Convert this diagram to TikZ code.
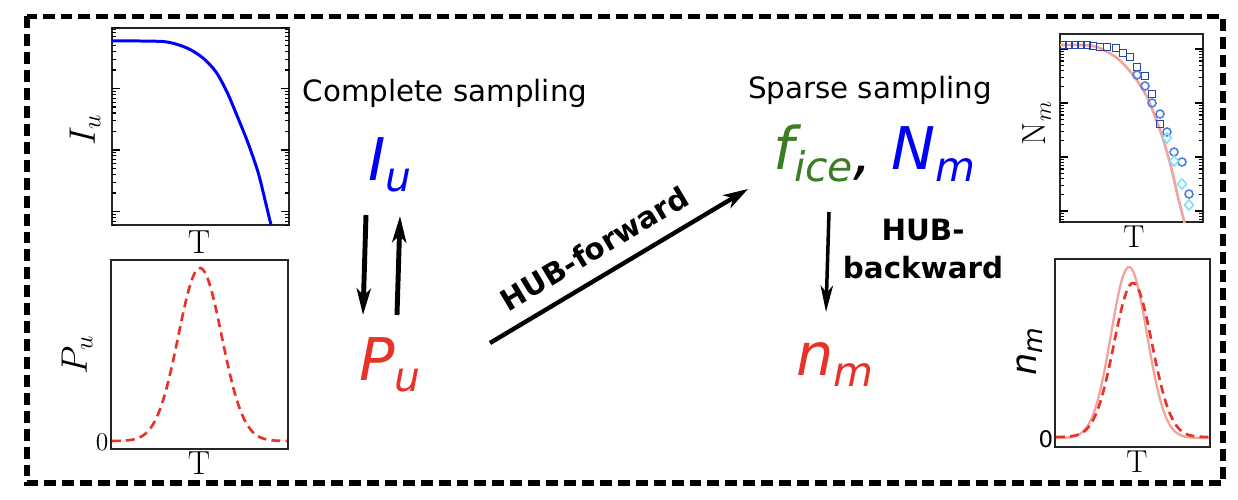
\RequirePackage{fix-cm}
\documentclass[tikz,border=0pt]{standalone}
\usepackage{fontspec}
\newfontfamily\dejavu{DejaVu Sans}
\usetikzlibrary{arrows.meta}

\definecolor{hubblue}{RGB}{0,0,250}
\definecolor{hubred}{RGB}{232,50,40}
\definecolor{hubgreen}{RGB}{58,125,34}
\definecolor{hubpink}{RGB}{244,162,156}
\definecolor{sqblue}{RGB}{40,70,170}
\definecolor{ciblue}{RGB}{75,125,225}
\definecolor{dicyan}{RGB}{125,225,245}

% big sans italic symbol with lowered subscript
\newcommand{\hubvar}[2]{{\fontsize{33.5}{40}\selectfont #1}\raisebox{-6.8pt}{\fontsize{23.3}{28}\selectfont #2}}

\begin{document}
\begin{tikzpicture}[x=0.02cm, y=-0.02cm,
    axbox/.style = {draw = black!85, line width = 1.1pt},
    fatarrow/.style = {line width = 2.8pt, -{Stealth[length = 15pt, width = 8pt, inset = 4pt]}},
    hublab/.style = {font = \dejavu\fontsize{16.7}{21.6}\selectfont, inner sep = 0pt},
    bigvar/.style = {font = \dejavu\itshape, inner sep = 0pt, anchor = base west},
    axlab/.style = {inner sep = 0pt, font = \fontsize{21}{24}\selectfont},
    reddash/.style = {draw = hubred, line width = 1.5pt, dash pattern = on 5pt off 3pt}]
    \useasboundingbox (0,0) rectangle (1238,500);
    \draw[line width = 3.1pt, dash pattern = on 6.8pt off 3.4pt] (27,16.5) rectangle (1223,483);

    % left plots
    \draw[axbox] (112,28) rectangle (289,225);
    \begin{scope}
        \clip (112,28) rectangle (289,225);
        \foreach \d in {0,...,4} {
            \foreach \k in {1,...,9} {
                \pgfmathsetmacro\ty{273 - 61.5*\d - 61.5*log10(\k)}
                \pgfmathsetmacro\tl{\k == 1 ? 8 : 4}
                \draw[line width = 0.6pt] (112,\ty) -- ++(\tl,0);
                \draw[line width = 0.6pt] (289,\ty) -- ++(-\tl,0);
            }
        }
    \end{scope}
    \draw[hubblue, line width = 1.7pt] plot[smooth] coordinates {(112,41) (140,41) (167,42) (187,48) (203,58) (216,72) (227,92) (238,118) (248,143) (258,172) (265,200) (271,225)};
    \node[axlab, rotate = 90] (Ilab) at (85,130) {$I_u$};
    \node[axlab, font = \fontsize{19}{22}\selectfont] (T1) at (199,242) {T};

    \draw[axbox] (111,260) rectangle (288,449);
    \draw[reddash] plot[domain = 112:287, samples = 90] (\x, {441 - 173*exp(-((\x-200)/21.7)^2/2)});
    \node[axlab, rotate = 90] (Plab) at (77,355) {$P_u$};
    \node[axlab, font = \fontsize{19}{22}\selectfont] (T2) at (199,463) {T};
    \node[inner sep = 0pt, font = \fontsize{14.5}{17}\selectfont] (z1) at (102,442) {0};

    % middle
    \node[hublab] (complete) at (445,93) {Complete sampling};
    \node[hublab] (sparse) at (870,90) {Sparse sampling};
    \node[bigvar, hubblue] (Iu) at (368,180) {\hubvar{I}{u}};
    \node[bigvar, hubred] (Pu) at (359,380) {\hubvar{P}{u}};
    \node[bigvar] (fNm) at (773,170) {\color{hubgreen}\hubvar{f}{ice}\color{black}\raisebox{-2pt}{\fontsize{33.5}{40}\selectfont,}\hspace{11pt}\color{hubblue}\hubvar{N}{m}};
    \node[bigvar, hubred] (nm) at (796,375) {\hubvar{n}{m}};

    \coordinate (dnA) at (366,215);
    \coordinate (dnB) at (363,315);
    \coordinate (upA) at (397,315);
    \coordinate (upB) at (400,216);
    \coordinate (fwdA) at (490,343);
    \coordinate (fwdB) at (748,189);
    \coordinate (bwdA) at (829,212);
    \coordinate (bwdB) at (826,312);
    \draw[fatarrow] (dnA) -- (dnB);
    \draw[fatarrow] (upA) -- (upB);
    \draw[line width = 2.5pt, -{Stealth[length = 14pt, width = 8.5pt, inset = 4pt]}] (fwdA) -- (fwdB)
        node[pos = 0.46, sloped, above = 8pt, hublab, font = \dejavu\bfseries\fontsize{16.7}{21.6}\selectfont] (fwdlab) {HUB-forward};
    \draw[line width = 2pt, -{Stealth[length = 15pt, width = 7pt, inset = 4pt]}] (bwdA) -- (bwdB);
    \node[hublab, font = \dejavu\bfseries\fontsize{16.7}{21.6}\selectfont, align = center] (bwdlab) at (923,249) {HUB-\\backward};

    % right plots
    \draw[axbox] (1060,34) rectangle (1203,222);
    \begin{scope}
        \clip (1060,34) rectangle (1203,222);
        \foreach \d in {0,...,4} {
            \foreach \k in {1,...,9} {
                \pgfmathsetmacro\ty{265 - 54*\d - 54*log10(\k)}
                \pgfmathsetmacro\tl{\k == 1 ? 8 : 4}
                \draw[line width = 0.6pt] (1060,\ty) -- ++(\tl,0);
                \draw[line width = 0.6pt] (1203,\ty) -- ++(-\tl,0);
            }
        }
        \draw[hubpink, line width = 1.5pt] plot[smooth] coordinates {(1060,45) (1080,45) (1097,47) (1117,58) (1133,75) (1147,97) (1160,130) (1170,163) (1178,197) (1185,225)};
        \foreach \px/\py in {1063/45, 1069/45, 1075/45, 1081/45, 1087/45, 1093/46, 1100/47, 1107/47, 1116/48, 1123/53, 1130/57, 1137/67, 1145/76, 1152/94, 1160/124}
            \draw[sqblue, line width = 0.9pt] (\px,\py) +(-3.5,-3.5) rectangle +(3.5,3.5);
        \foreach \px/\py in {1137/75, 1145/86, 1152/103, 1160/114, 1167/132, 1174/152, 1182/162, 1189/194}
            \draw[ciblue, line width = 0.9pt] (\px,\py) circle[radius = 4];
        \foreach \px/\py in {1167/138, 1174/161, 1182/184, 1189/205}
            \draw[dicyan, line width = 0.9pt] (\px,\py) +(0,-5) -- +(4.5,0) -- +(0,5) -- +(-4.5,0) -- cycle;
    \end{scope}
    \node[axlab, rotate = 90, font = \fontsize{19}{22}\selectfont] (Nlab) at (1037,123) {$\mathrm{N}_m$};
    \node[axlab, font = \fontsize{18}{21}\selectfont] (T3) at (1134,237) {T};

    \draw[axbox] (1055,259) rectangle (1210,447);
    \draw[hubpink, line width = 1.3pt] plot[domain = 1056:1209, samples = 90] (\x, {438 - 171*exp(-((\x-1129)/18)^2/2)});
    \draw[reddash] plot[domain = 1056:1209, samples = 90] (\x, {437 - 154*exp(-((\x-1133)/19)^2/2)});
    \node[inner sep = 0pt, rotate = 90, font = \dejavu\itshape\fontsize{20}{24}\selectfont] (nlab) at (1030,352) {n\raisebox{-3.5pt}{\fontsize{15}{18}\selectfont m}};
    \node[axlab, font = \fontsize{18}{21}\selectfont] (T4) at (1137,462) {T};
    \node[inner sep = 0pt, font = \dejavu\fontsize{13}{15}\selectfont] (z2) at (1046,439) {0};
\end{tikzpicture}
\end{document}
